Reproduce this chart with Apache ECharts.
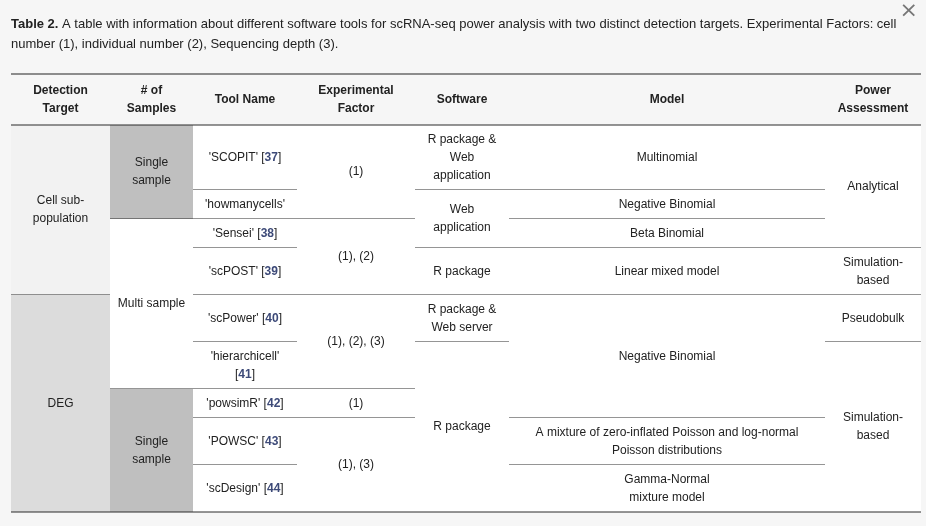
<!DOCTYPE html>
<html><head><meta charset="utf-8">
<script src="https://cdn.jsdelivr.net/npm/echarts@6/dist/echarts.min.js"></script>
<style>html,body{margin:0;padding:0;background:#f6f6f6}#c{width:926px;height:526px}</style>
</head><body><div id="c"></div>
<script>
// ---- data ----
var caption = "{b|Table 2.} A table with information about different software tools for scRNA-seq power analysis with two distinct detection targets. Experimental Factors: cell\nnumber (1), individual number (2), Sequencing depth (3).";
var headers = ["Detection\nTarget", "# of\nSamples", "Tool Name", "Experimental\nFactor", "Software", "Model", "Power\nAssessment"];
var detectionTargets = [["Cell sub-\npopulation", 0, 3], ["DEG", 4, 8]];
var sampleGroups = [["Single\nsample", 0, 1, "single"], ["Multi sample", 2, 5, "multi"], ["Single\nsample", 6, 8, "single"]];
var toolNames = ["'SCOPIT' [{r|37}]", "'howmanycells'", "'Sensei' [{r|38}]", "'scPOST' [{r|39}]", "'scPower' [{r|40}]", "'hierarchicell'\n[{r|41}]", "'powsimR' [{r|42}]", "'POWSC' [{r|43}]", "'scDesign' [{r|44}]"];
var factors = [["(1)", 0, 1], ["(1), (2)", 2, 3], ["(1), (2), (3)", 4, 5], ["(1)", 6, 6], ["(1), (3)", 7, 8]];
var software = [["R package &\nWeb\napplication", 0, 0], ["Web\napplication", 1, 2], ["R package", 3, 3], ["R package &\nWeb server", 4, 4], ["R package", 5, 8]];
var models = [["Multinomial", 0, 0], ["Negative Binomial", 1, 1], ["Beta Binomial", 2, 2], ["Linear mixed model", 3, 3], ["Negative Binomial", 4, 6], ["A mixture of zero-inflated Poisson and log-normal\nPoisson distributions", 7, 7], ["Gamma-Normal\nmixture model", 8, 8]];
var assessments = [["Analytical", 0, 2], ["Simulation-\nbased", 3, 3], ["Pseudobulk", 4, 4], ["Simulation-\nbased", 5, 8]];

// ---- layout (pixel grid) ----
var colEdges = [11, 110, 193, 297, 415, 509, 825, 921];
var rowEdges = [125, 190, 219, 248, 295, 342, 389, 418, 465, 512];
var headTop = 74;
var fills = {dt0: '#f2f2f2', dt1: '#dcdcdc', single: '#bfbfbf', multi: '#ffffff', plain: '#ffffff'};

var cells = [];
function add(col, text, r0, r1, kind) { cells.push([col, r0, r1, text, kind]); }
detectionTargets.forEach(function (d, i) { add(0, d[0], d[1], d[2], 'dt' + i); });
sampleGroups.forEach(function (d) { add(1, d[0], d[1], d[2], d[3]); });
toolNames.forEach(function (t, i) { add(2, t, i, i, 'plain'); });
factors.forEach(function (d) { add(3, d[0], d[1], d[2], 'plain'); });
software.forEach(function (d) { add(4, d[0], d[1], d[2], 'plain'); });
models.forEach(function (d) { add(5, d[0], d[1], d[2], 'plain'); });
assessments.forEach(function (d) { add(6, d[0], d[1], d[2], 'plain'); });
headers.forEach(function (h, i) { cells.push([i, -1, -1, h, 'head']); });

var chart = echarts.init(document.getElementById('c'));
chart.setOption({
  backgroundColor: '#f6f6f6',
  animation: false,
  title: {
    text: caption, left: 11, top: 14, padding: 0,
    textStyle: {fontFamily: 'Liberation Sans, Arial', fontSize: 13, fontWeight: 'normal', color: '#222', lineHeight: 20,
      rich: {b: {fontWeight: 'bold', fontSize: 13, fontFamily: 'Liberation Sans, Arial', color: '#222'}}}
  },
  graphic: [{type: 'text', right: 8, top: 0, style: {text: '×', fontSize: 22, fill: '#777', fontFamily: 'DejaVu Sans'}}],
  grid: {left: 0, right: 0, top: 0, bottom: 0},
  xAxis: {type: 'value', min: 0, max: 926, show: false},
  yAxis: {type: 'value', min: 0, max: 526, inverse: true, show: false},
  series: [{
    type: 'custom',
    coordinateSystem: 'cartesian2d',
    data: cells,
    renderItem: function (params, api) {
      var c = cells[params.dataIndex];
      var col = c[0], r0 = c[1], r1 = c[2], text = c[3], kind = c[4];
      var x0 = colEdges[col], x1 = colEdges[col + 1];
      var y0 = r0 < 0 ? headTop : rowEdges[r0];
      var y1 = r0 < 0 ? rowEdges[0] : rowEdges[r1 + 1];
      var p0 = api.coord([x0, y0]), p1 = api.coord([x1, y1]);
      var head = kind === 'head';
      var children = [];
      if (!head) children.push({type: 'rect', shape: {x: p0[0], y: p0[1], width: p1[0] - p0[0], height: p1[1] - p0[1]}, style: {fill: fills[kind]}});
      children.push({type: 'line', shape: {x1: p0[0], y1: p1[1], x2: p1[0], y2: p1[1]}, style: {stroke: '#2a2a2a', lineWidth: 1}});
      if (head) children.push({type: 'line', shape: {x1: p0[0], y1: p0[1], x2: p1[0], y2: p0[1]}, style: {stroke: '#222', lineWidth: 1}});
      children.push({type: 'text', x: (p0[0] + p1[0]) / 2, y: (p0[1] + p1[1]) / 2,
        style: {text: text, align: 'center', verticalAlign: 'middle', fontFamily: 'Liberation Sans, Arial', fontSize: 12,
          fontWeight: head ? 'bold' : 'normal', fill: '#222', lineHeight: 18,
          rich: {r: {fontWeight: 'bold', fill: '#3d4a78', fontSize: 12, fontFamily: 'Liberation Sans, Arial', lineHeight: 18}}}});
      return {type: 'group', children: children};
    }
  }]
});
</script></body></html>
